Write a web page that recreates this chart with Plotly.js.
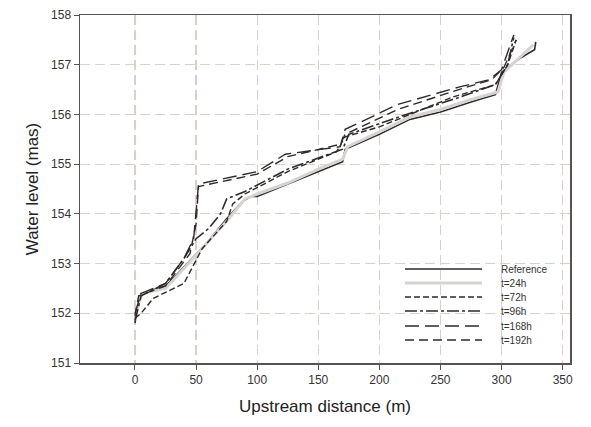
<!DOCTYPE html>
<html>
<head>
<meta charset="utf-8">
<script src="https://cdn.plot.ly/plotly-3.0.1.min.js"></script>
<style>html,body{margin:0;padding:0;background:#fff;}#chart{width:591px;height:427px;}</style>
</head>
<body>
<div id="chart"></div>
<script>
// Series data
const refX = [0, 2, 5, 25, 35, 50, 60, 75, 88, 95, 100, 110, 125, 150, 170, 172, 200, 225, 250, 275, 295, 300, 315, 327, 328];
const refY = [151.8, 152.1, 152.4, 152.55, 152.8, 153.2, 153.45, 153.9, 154.25, 154.35, 154.35, 154.45, 154.6, 154.85, 155.05, 155.3, 155.6, 155.9, 156.05, 156.25, 156.4, 156.85, 157.13, 157.3, 157.46];

const t24X = [0, 3, 6, 25, 40, 55, 75, 90, 100, 125, 150, 170, 174, 200, 225, 250, 275, 297, 302, 315, 326];
const t24Y = [151.85, 152.2, 152.4, 152.5, 152.9, 153.3, 153.85, 154.3, 154.4, 154.62, 154.9, 155.1, 155.35, 155.65, 155.95, 156.1, 156.3, 156.45, 156.85, 157.15, 157.4];

const t72X = [0, 5, 15, 40, 55, 75, 80, 90, 125, 165, 172, 200, 225, 260, 295, 305, 312];
const t72Y = [151.9, 152.0, 152.3, 152.6, 153.3, 153.85, 154.2, 154.4, 154.85, 155.25, 155.55, 155.75, 156.0, 156.35, 156.6, 157.0, 157.5];

const t96X = [0, 5, 25, 40, 50, 60, 70, 75, 90, 125, 170, 175, 210, 260, 295, 305, 310];
const t96Y = [151.85, 152.35, 152.6, 153.1, 153.5, 153.7, 154.0, 154.3, 154.45, 154.9, 155.3, 155.6, 155.9, 156.3, 156.6, 157.0, 157.55];

const t168X = [0, 5, 25, 40, 48, 50, 52, 100, 123, 168, 172, 215, 265, 290, 300, 310];
const t168Y = [152.0, 152.4, 152.6, 153.1, 153.5, 154.0, 154.6, 154.85, 155.2, 155.35, 155.7, 156.2, 156.55, 156.7, 156.9, 157.6];

const t192X = [0, 3, 25, 45, 50, 52, 100, 125, 168, 172, 215, 265, 292, 302, 312];
const t192Y = [151.95, 152.35, 152.55, 153.2, 153.8, 154.55, 154.8, 155.15, 155.4, 155.6, 156.1, 156.5, 156.7, 156.95, 157.5];

const xTicks = [0, 50, 100, 150, 200, 250, 300, 350];
const yTicks = [151, 152, 153, 154, 155, 156, 157, 158];

const dark = '#2e2a2a';
const FONT = 'Liberation Sans, Arial, sans-serif';
const series = [
  {x: refX, y: refY, name: 'Reference', line: {color: dark, width: 1.6, dash: 'solid'}},
  {x: t24X, y: t24Y, name: 't=24h', line: {color: '#d6d3d2', width: 3, dash: 'solid'}},
  {x: t72X, y: t72Y, name: 't=72h', line: {color: dark, width: 1.4, dash: '6px,3px'}},
  {x: t96X, y: t96Y, name: 't=96h', line: {color: dark, width: 1.6, dash: '12px,3px,3px,3px'}},
  {x: t168X, y: t168Y, name: 't=168h', line: {color: dark, width: 1.4, dash: '14px,6px'}},
  {x: t192X, y: t192Y, name: 't=192h', line: {color: dark, width: 1.4, dash: '9px,5px'}}
];
const traces = series.map(t => Object.assign({type: 'scatter', mode: 'lines', showlegend: false}, t));

// Compact legend drawn in paper coordinates (plot area 80..570 x 15..363 px)
const plotL = 80, plotW = 490, plotB = 363, plotH = 348;
const px2x = p => (p - plotL) / plotW;
const py2y = p => (plotB - p) / plotH;
const rowY = [269, 283, 297, 311, 326, 340];
const shapes = [], annotations = [];
series.forEach((s, i) => {
  shapes.push({type: 'line', xref: 'paper', yref: 'paper',
    x0: px2x(405), x1: px2x(482), y0: py2y(rowY[i]), y1: py2y(rowY[i]),
    line: {color: s.line.color, width: s.line.width, dash: s.line.dash}});
  annotations.push({xref: 'paper', yref: 'paper', x: px2x(499), y: py2y(rowY[i]),
    xanchor: 'left', yanchor: 'middle', showarrow: false, text: s.name,
    font: {family: FONT, size: 10, color: '#333'}});
});

const axisCommon = {
  showline: true, linecolor: '#5a5252', linewidth: 1.5, mirror: true,
  ticks: 'outside', ticklen: 5, tickcolor: '#5a5252', tickwidth: 1,
  showgrid: true, gridcolor: '#d9d0cc', gridwidth: 1.2, griddash: '10px,5px',
  zeroline: false,
  tickfont: {family: FONT, size: 12, color: '#333'}
};

const layout = {
  width: 591, height: 427,
  margin: {l: 80, r: 21, t: 15, b: 64},
  paper_bgcolor: '#fff', plot_bgcolor: '#fff',
  showlegend: false,
  shapes: shapes,
  annotations: annotations,
  xaxis: Object.assign({}, axisCommon, {
    range: [-45, 356], tickvals: xTicks, ticktext: xTicks.map(String),
    title: {text: 'Upstream distance (m)', font: {family: FONT, size: 17, color: '#222'}, standoff: 14}
  }),
  yaxis: Object.assign({}, axisCommon, {
    range: [151, 158], tickvals: yTicks, ticktext: yTicks.map(String),
    title: {text: 'Water level (mas)', font: {family: FONT, size: 17, color: '#222'}, standoff: 8}
  })
};

Plotly.newPlot('chart', traces, layout, {displayModeBar: false, staticPlot: true});
</script>
</body>
</html>
